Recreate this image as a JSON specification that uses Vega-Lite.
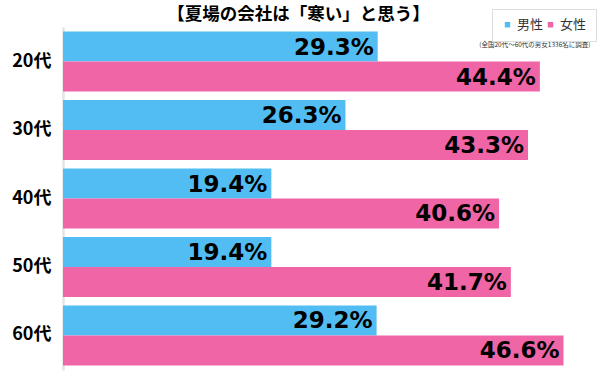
{
  "$schema": "https://vega.github.io/schema/vega-lite/v6.json",
  "width": 537,
  "height": 343,
  "autosize": {"type": "none"},
  "padding": {"left": 63, "top": 27, "right": 0, "bottom": 9},
  "background": "white",
  "title": {
    "text": "【夏場の会社は「寒い」と思う】",
    "font": "Noto Sans CJK JP",
    "fontSize": 17.5,
    "fontWeight": "bold",
    "color": "#000000",
    "anchor": "middle",
    "dx": -33,
    "offset": -15
  },
  "data": {
    "values": [
      {"age": "20代", "gender": "男性", "value": 0.293},
      {"age": "20代", "gender": "女性", "value": 0.444},
      {"age": "30代", "gender": "男性", "value": 0.263},
      {"age": "30代", "gender": "女性", "value": 0.433},
      {"age": "40代", "gender": "男性", "value": 0.194},
      {"age": "40代", "gender": "女性", "value": 0.406},
      {"age": "50代", "gender": "男性", "value": 0.194},
      {"age": "50代", "gender": "女性", "value": 0.417},
      {"age": "60代", "gender": "男性", "value": 0.292},
      {"age": "60代", "gender": "女性", "value": 0.466}
    ]
  },
  "encoding": {
    "y": {
      "field": "age",
      "type": "nominal",
      "sort": ["20代", "30代", "40代", "50代", "60代"],
      "scale": {"paddingInner": 0.124, "paddingOuter": 0.066},
      "axis": {
        "title": null,
        "ticks": false,
        "labelFont": "Noto Sans CJK JP",
        "labelFontSize": 18,
        "labelFontWeight": "bold",
        "labelColor": "#000000",
        "labelPadding": 12,
        "domainColor": "#e4e4e4",
        "domainWidth": 2.5
      }
    },
    "yOffset": {
      "field": "gender",
      "type": "nominal",
      "sort": ["男性", "女性"],
      "scale": {"paddingInner": 0, "paddingOuter": 0}
    },
    "x": {
      "field": "value",
      "type": "quantitative",
      "scale": {"domain": [0, 0.5], "nice": false},
      "axis": {
        "orient": "top",
        "labels": false,
        "ticks": false,
        "domain": false,
        "grid": false,
        "title": "(全国20代～60代の男女1336名に調査)",
        "titleFont": "Noto Sans CJK JP",
        "titleFontSize": 6.5,
        "titleFontWeight": "normal",
        "titleColor": "#333333",
        "titleAnchor": "end",
        "titleAlign": "right",
        "titleBaseline": "middle",
        "titleX": 527,
        "titleY": 17
      }
    }
  },
  "layer": [
    {
      "mark": {"type": "bar"},
      "encoding": {
        "color": {
          "field": "gender",
          "type": "nominal",
          "scale": {"domain": ["男性", "女性"], "range": ["#51bdf2", "#f065a5"]},
          "legend": {
            "title": null,
            "orient": "none",
            "legendX": 429,
            "legendY": -18,
            "direction": "horizontal",
            "symbolType": "square",
            "symbolSize": 30,
            "symbolStrokeWidth": 0,
            "labelFont": "Noto Sans CJK JP",
            "labelFontSize": 13,
            "labelColor": "#333333",
            "labelOffset": 3,
            "columnPadding": 0,
            "padding": 9,
            "strokeColor": "#dddddd",
            "fillColor": "white"
          }
        }
      }
    },
    {
      "mark": {
        "type": "text",
        "align": "right",
        "baseline": "middle",
        "dx": -4,
        "dy": 1,
        "font": "DejaVu Sans",
        "fontWeight": "bold",
        "fontSize": 23,
        "color": "#000000"
      },
      "encoding": {
        "text": {"field": "value", "type": "quantitative", "format": ".1%"}
      }
    }
  ],
  "config": {"view": {"stroke": null}}
}
